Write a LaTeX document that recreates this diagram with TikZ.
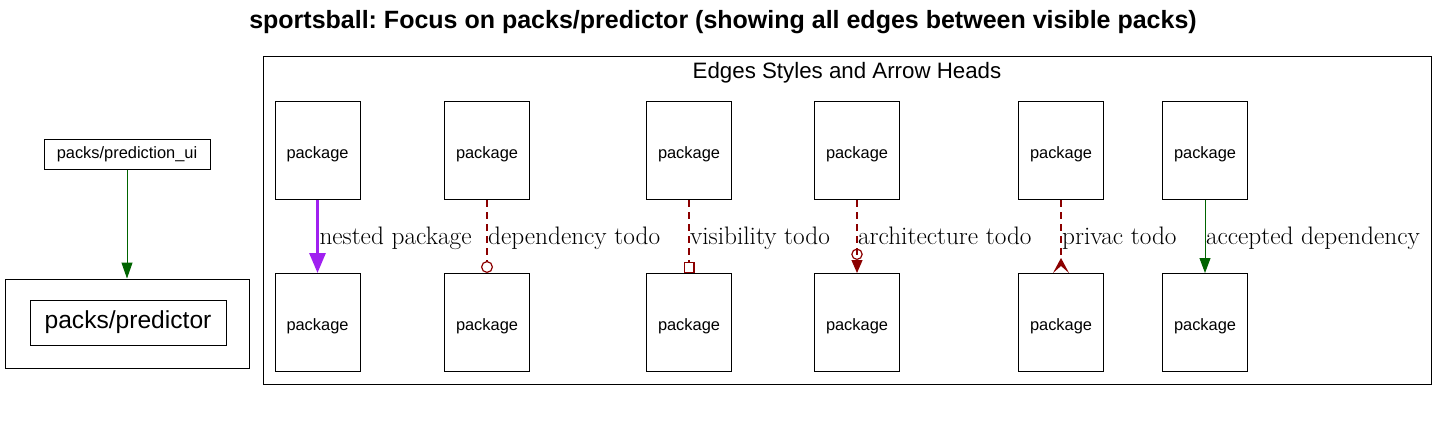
\documentclass[tikz,border=0pt]{standalone}
\usepackage{fontspec}
\newfontfamily\arialf{Liberation Sans}
\usetikzlibrary{arrows.meta}
\definecolor{dkred}{HTML}{8B0000}
\definecolor{dkgreen}{HTML}{006400}
\definecolor{purp}{HTML}{A020F0}
\frenchspacing
\begin{document}
\begin{tikzpicture}[x=1pt,y=-1pt,
  pkg/.style={draw, line width=1pt, minimum width=85pt, minimum height=98pt, inner sep=0pt,
    text height=15pt, text depth=0pt, font=\arialf\fontsize{16.4}{19}\selectfont},
  box/.style={draw, line width=1pt, inner sep=0pt},
  lbl/.style={anchor=west, inner sep=0pt, xshift=0.5pt, yshift=-1.5pt, text=black, text height=17.5pt, text depth=4.9pt,
    font=\fontsize{25.3}{28}\selectfont, pos=0.5},
  todo/.style={dkred, line width=1.2pt, dash pattern=on 7pt off 5pt},
  accepted/.style={dkgreen, line width=1pt}
]
\useasboundingbox (0,0) rectangle (1447,431);

\node[font=\arialf\bfseries\fontsize{25}{28}\selectfont] (title) at (723,22) {sportsball: Focus on packs/predictor (showing all edges between visible packs)};

% left part
\node[box, minimum width=166pt, minimum height=30pt, font=\arialf\fontsize{16.4}{19}\selectfont] (pui) at (127,154) {packs/prediction\_ui};
\node[box, minimum width=244pt, minimum height=89pt] (cl1) at (127,323.5) {};
\node[box, minimum width=196pt, minimum height=45pt, font=\arialf\fontsize{24.6}{28}\selectfont] (pred) at (128,322.5) {packs/predictor};
\draw[accepted, -{Triangle[length=16pt,width=11pt]}] (pui) -- (cl1);

% legend cluster
\node[box, minimum width=1168pt, minimum height=328pt] (cl2) at (847,220) {};
\node[font=\arialf\fontsize{22.3}{26}\selectfont] (cl2lbl) at (847,73) {Edges Styles and Arrow Heads};

\foreach \i/\x in {1/317.5,2/487,3/689,4/857,5/1061,6/1205}{
  \node[pkg] (t\i) at (\x,150.5) {package};
  \node[pkg] (b\i) at (\x,322.5) {package};
}

\draw[purp, line width=3pt, -{Triangle[length=20pt,width=16pt]}] (t1) -- (b1) node[lbl] {nested package};
\draw[todo, -{Circle[open,length=12pt,width=12pt]}] (t2) -- (b2) node[lbl] {dependency todo};
\draw[todo, -{Square[open,length=11pt,width=11pt]}] (t3) -- (b3) node[lbl] {visibility todo};
\draw[todo, -{Circle[open,length=11.5pt,width=11.5pt] Triangle[length=13pt,width=11pt]}] (t4) -- (b4) node[lbl] {architecture todo};
\draw[todo, -{Stealth[reversed,length=15pt,width=16pt,inset=7pt]}] (t5) -- (b5) node[lbl] {privac todo};
\draw[accepted, -{Triangle[length=15pt,width=11pt]}] (t6) -- (b6) node[lbl] {accepted dependency};
\end{tikzpicture}
\end{document}
